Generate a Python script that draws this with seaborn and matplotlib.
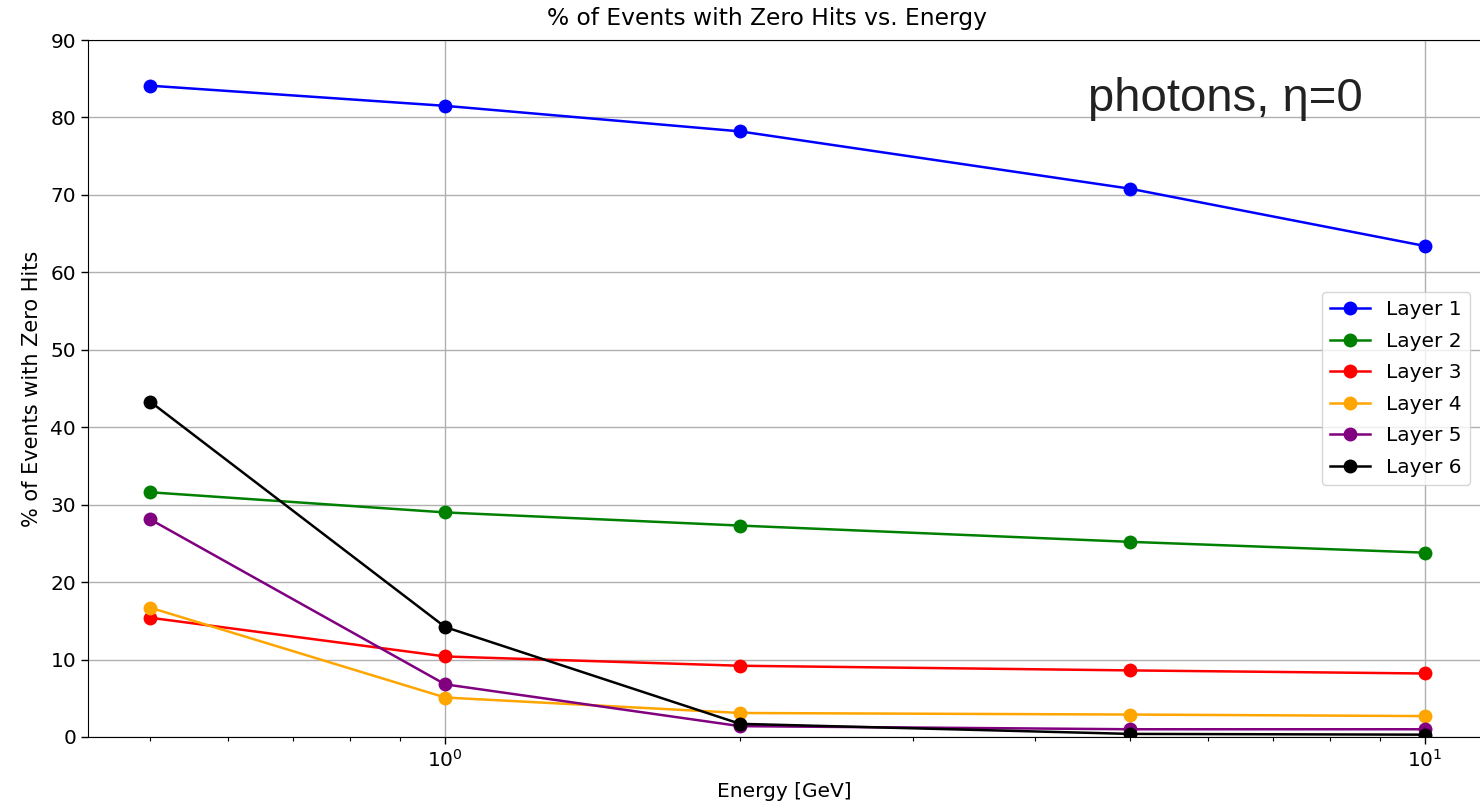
import matplotlib
matplotlib.use("Agg")
import matplotlib.pyplot as plt
import seaborn as sns
import pandas as pd

energies = [0.5, 1, 2, 5, 10]
layer1 = [84.1, 81.5, 78.2, 70.8, 63.4]
layer2 = [31.6, 29.0, 27.3, 25.2, 23.8]
layer3 = [15.4, 10.4, 9.2, 8.6, 8.2]
layer4 = [16.7, 5.1, 3.1, 2.9, 2.7]
layer5 = [28.1, 6.8, 1.4, 1.0, 1.0]
layer6 = [43.3, 14.2, 1.7, 0.4, 0.3]
layer_names = ["Layer 1", "Layer 2", "Layer 3", "Layer 4", "Layer 5", "Layer 6"]
layer_colors = ["blue", "green", "red", "orange", "purple", "black"]
y_ticks = [0, 10, 20, 30, 40, 50, 60, 70, 80, 90]

series = [layer1, layer2, layer3, layer4, layer5, layer6]
rows = []
for name, vals in zip(layer_names, series):
    for e, v in zip(energies, vals):
        rows.append({"Energy": e, "Pct": v, "Layer": name})
df = pd.DataFrame(rows)

plt.rcParams["font.family"] = ["DejaVu Sans"]
fs = 14.5

fig = plt.figure(figsize=(14.8, 8.09), dpi=100)
ax = fig.add_axes([88 / 1480, 1 - 737 / 809, 1 - 88 / 1480, (737 - 40) / 809])

sns.lineplot(data=df, x="Energy", y="Pct", hue="Layer", hue_order=layer_names,
             palette=dict(zip(layer_names, layer_colors)), marker="o",
             markersize=10, markeredgewidth=0, linewidth=1.8, ax=ax)

ax.set_xscale("log")
ax.set_xlim(0.432, 11.38)
ax.set_ylim(0, 90)
ax.set_yticks(y_ticks)
ax.grid(True, which="major", color="#b0b0b0", linewidth=1.0)
ax.spines["right"].set_visible(False)
ax.tick_params(axis="both", which="major", labelsize=fs, length=5, width=1)
ax.tick_params(axis="x", which="minor", length=3, width=0.8)
ax.set_xlabel("Energy [GeV]", fontsize=fs, labelpad=8)
ax.set_ylabel("% of Events with Zero Hits", fontsize=15, labelpad=6)

fig.text(767 / 1480, 1 - 18 / 809, "% of Events with Zero Hits vs. Energy",
         ha="center", va="center", fontsize=16.8)

sns.move_legend(ax, "center right", title=None, fontsize=fs, frameon=True,
                borderaxespad=0.5, labelspacing=0.62)

fig.text(1088 / 1480, 1 - 111 / 809, "photons, η=0", ha="left", va="baseline",
         fontsize=34, color="#222222", family=["Liberation Sans", "DejaVu Sans"])

fig.savefig("out.png", dpi=100)
